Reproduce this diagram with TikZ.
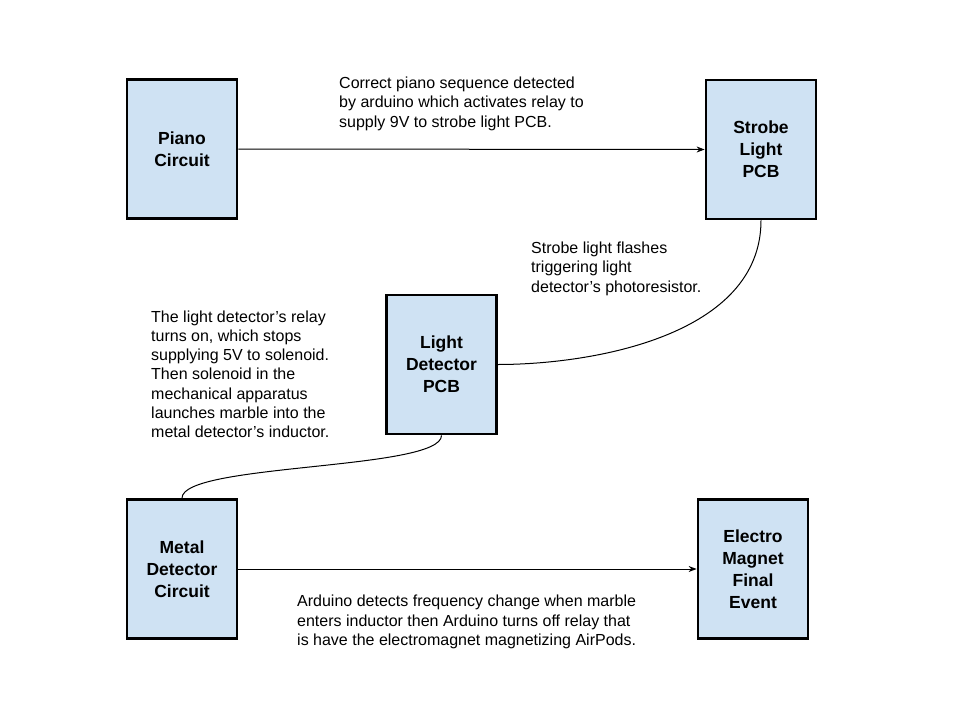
\documentclass[tikz,border=0pt]{standalone}
\usepackage{fontspec}
\setmainfont{Liberation Sans}
\usetikzlibrary{arrows.meta}

\definecolor{boxblue}{HTML}{CFE2F3}
\tikzset{
  block/.style={draw=black, line width=2.8pt, fill=boxblue,
    minimum width=110pt, minimum height=139pt, align=center, inner sep=0pt,
    font=\fontsize{17.5}{22}\selectfont\bfseries},
  note/.style={anchor=north west, align=left, inner sep=0pt,
    font=\fontsize{16}{19.2}\selectfont},
  link/.style={line width=1pt},
  flow/.style={line width=1pt, -{Stealth[length=8pt,width=6pt]}}
}

\begin{document}
\begin{tikzpicture}[x=1pt,y=-1pt]
\useasboundingbox (0,0) rectangle (960,720);
% blocks
\node [block] (piano) at(182,149){Piano\\Circuit};
\node [block] (strobe) at(761,149.5){Strobe\\Light\\PCB};
\node [block] (light) at(441.5,364.5){Light\\Detector\\PCB};
\node [block] (metal) at(182,569){Metal\\Detector\\Circuit};
\node [block] (magnet) at(753,569){Electro\\Magnet\\Final\\Event};
% connectors
\draw [flow] (piano.east)--(strobe.west);
\draw [link] (strobe.south) .. controls +(0,115) and +(95,0) .. (light.east);
\draw [link] (light.south) .. controls +(0,35) and +(0,-35) .. (metal.north);
\draw [flow] (metal.east)--(magnet.west);
% notes
\node [note] (piano-note) at(339,77){Correct piano sequence detected\\by arduino which activates relay to\\supply 9V to strobe light PCB.};
\node [note] (strobe-note) at(531,242){Strobe light flashes\\triggering light\\detector’s photoresistor.};
\node [note] (light-note) at(151,310.5){The light detector’s relay\\turns on, which stops\\supplying 5V to solenoid.\\Then solenoid in the\\mechanical apparatus\\launches marble into the\\metal detector’s inductor.};
\node [note] (metal-note) at(297,595){Arduino detects frequency change when marble\\enters inductor then Arduino turns off relay that\\is have the electromagnet magnetizing AirPods.};
\end{tikzpicture}
\end{document}
